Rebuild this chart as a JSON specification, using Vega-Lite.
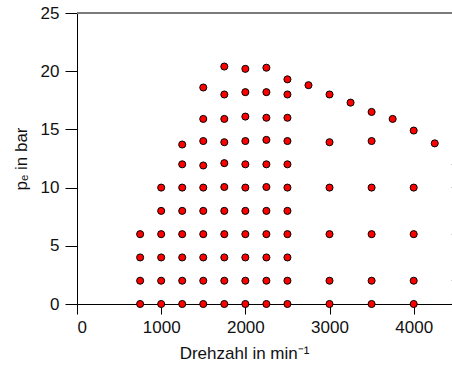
{
  "$schema": "https://vega.github.io/schema/vega-lite/v6.json",
  "autosize": "none",
  "width": 375,
  "height": 291,
  "padding": {"left": 77, "top": 13, "right": 0, "bottom": 65},
  "background": "white",
  "config": {
    "view": {"stroke": null},
    "font": "Liberation Sans",
    "axis": {
      "labelFont": "Liberation Sans",
      "titleFont": "Liberation Sans",
      "labelFontSize": 17,
      "titleFontSize": 17,
      "titleFontWeight": "normal",
      "labelColor": "#111",
      "titleColor": "#111",
      "domainColor": "#000",
      "tickColor": "#000",
      "grid": false
    }
  },
  "datasets": {
    "pts": [
      {"n": 750, "p": 0}, {"n": 750, "p": 2}, {"n": 750, "p": 4}, {"n": 750, "p": 6},
      {"n": 1000, "p": 0}, {"n": 1000, "p": 2}, {"n": 1000, "p": 4}, {"n": 1000, "p": 6}, {"n": 1000, "p": 8}, {"n": 1000, "p": 10},
      {"n": 1250, "p": 0}, {"n": 1250, "p": 2}, {"n": 1250, "p": 4}, {"n": 1250, "p": 6}, {"n": 1250, "p": 8}, {"n": 1250, "p": 10}, {"n": 1250, "p": 12}, {"n": 1250, "p": 13.7},
      {"n": 1500, "p": 0}, {"n": 1500, "p": 2}, {"n": 1500, "p": 4}, {"n": 1500, "p": 6}, {"n": 1500, "p": 8}, {"n": 1500, "p": 10}, {"n": 1500, "p": 11.9}, {"n": 1500, "p": 14}, {"n": 1500, "p": 15.9}, {"n": 1500, "p": 18.6},
      {"n": 1750, "p": 0}, {"n": 1750, "p": 2}, {"n": 1750, "p": 4}, {"n": 1750, "p": 6}, {"n": 1750, "p": 8}, {"n": 1750, "p": 10.05}, {"n": 1750, "p": 12.1}, {"n": 1750, "p": 13.9}, {"n": 1750, "p": 15.9}, {"n": 1750, "p": 18}, {"n": 1750, "p": 20.4},
      {"n": 2000, "p": 0}, {"n": 2000, "p": 2}, {"n": 2000, "p": 4}, {"n": 2000, "p": 6}, {"n": 2000, "p": 8}, {"n": 2000, "p": 10}, {"n": 2000, "p": 12}, {"n": 2000, "p": 14}, {"n": 2000, "p": 16.1}, {"n": 2000, "p": 18.2}, {"n": 2000, "p": 20.2},
      {"n": 2250, "p": 0}, {"n": 2250, "p": 2}, {"n": 2250, "p": 4}, {"n": 2250, "p": 6}, {"n": 2250, "p": 8}, {"n": 2250, "p": 10.05}, {"n": 2250, "p": 12}, {"n": 2250, "p": 14.1}, {"n": 2250, "p": 16}, {"n": 2250, "p": 18.2}, {"n": 2250, "p": 20.3},
      {"n": 2500, "p": 0}, {"n": 2500, "p": 2}, {"n": 2500, "p": 4}, {"n": 2500, "p": 6}, {"n": 2500, "p": 8}, {"n": 2500, "p": 10}, {"n": 2500, "p": 12}, {"n": 2500, "p": 14}, {"n": 2500, "p": 16}, {"n": 2500, "p": 18}, {"n": 2500, "p": 19.3},
      {"n": 2750, "p": 18.8},
      {"n": 3000, "p": 0}, {"n": 3000, "p": 2}, {"n": 3000, "p": 6}, {"n": 3000, "p": 10}, {"n": 3000, "p": 13.9}, {"n": 3000, "p": 18},
      {"n": 3250, "p": 17.3},
      {"n": 3500, "p": 0}, {"n": 3500, "p": 2}, {"n": 3500, "p": 6}, {"n": 3500, "p": 10}, {"n": 3500, "p": 14}, {"n": 3500, "p": 16.5},
      {"n": 3750, "p": 15.9},
      {"n": 4000, "p": 0}, {"n": 4000, "p": 2}, {"n": 4000, "p": 6}, {"n": 4000, "p": 10}, {"n": 4000, "p": 14.9},
      {"n": 4250, "p": 13.8},
      {"n": 4500, "p": 0}, {"n": 4500, "p": 2}, {"n": 4500, "p": 6}, {"n": 4500, "p": 10}, {"n": 4500, "p": 12}
    ],
    "top": [{"p": 25}]
  },
  "layer": [
    {
      "data": {"name": "top"},
      "mark": {"type": "rule", "color": "#7a7a7a", "strokeWidth": 2},
      "encoding": {
        "y": {"field": "p", "type": "quantitative", "scale": {"domain": [0, 25]}}
      }
    },
    {
      "data": {"name": "pts"},
      "mark": {"type": "point", "shape": "circle", "filled": true, "fill": "#ff0000", "stroke": "#000", "strokeWidth": 1, "opacity": 1, "size": 50},
      "encoding": {
        "x": {
          "field": "n", "type": "quantitative",
          "scale": {"domain": [0, 4455], "nice": false, "zero": false},
          "axis": {"values": [0, 1000, 2000, 3000, 4000], "tickSize": 10, "labelPadding": 5, "title": "Drehzahl in min⁻¹", "titlePadding": 10, "titleX": 167, "titleAlign": "center", "titleAnchor": null, "format": "d"}
        },
        "y": {
          "field": "p", "type": "quantitative",
          "scale": {"domain": [0, 25], "nice": false},
          "axis": {"values": [0, 5, 10, 15, 20, 25], "tickSize": 12, "labelPadding": 6, "title": "pₑ in bar", "titlePadding": 10}
        }
      }
    }
  ]
}
